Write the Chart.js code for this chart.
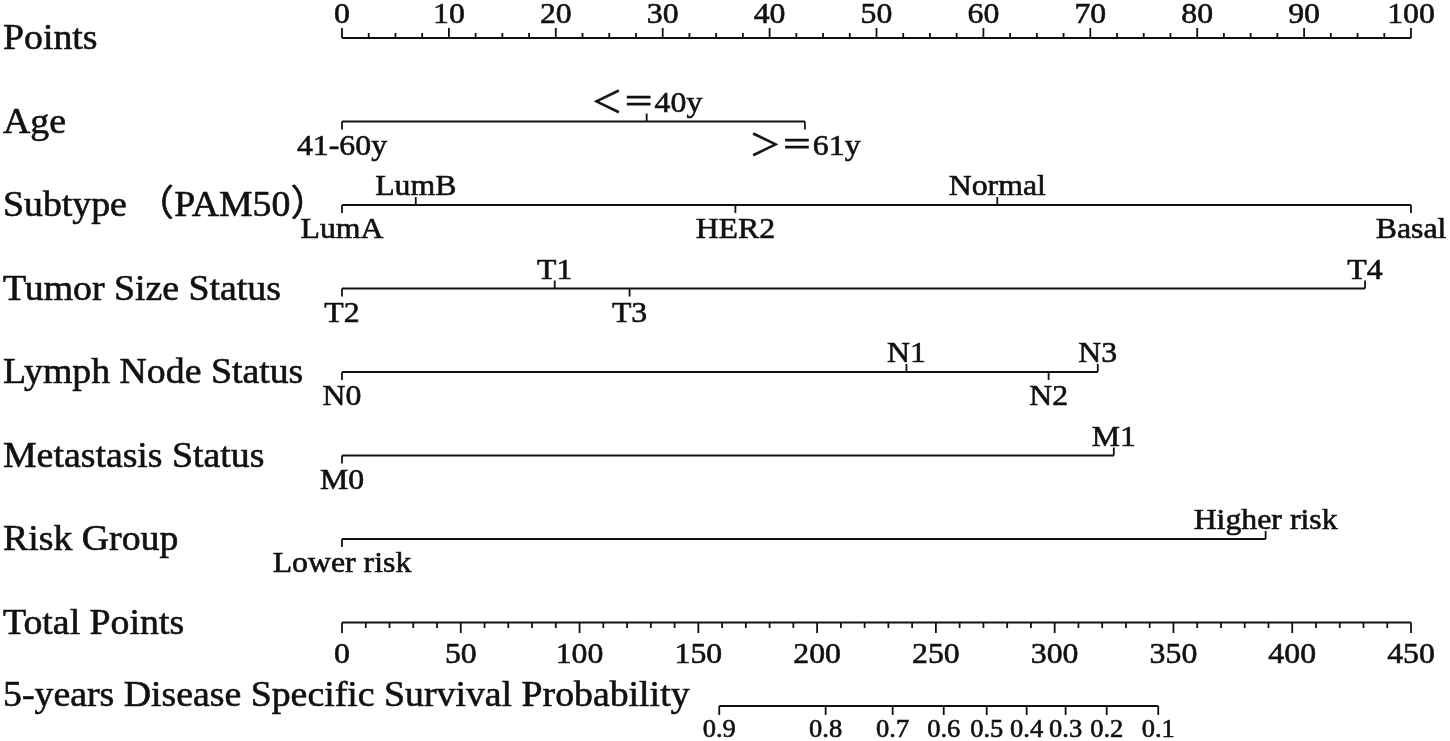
<!DOCTYPE html>
<html>
<head>
<meta charset="utf-8">
<title>Nomogram</title>
<script src="https://cdn.jsdelivr.net/npm/chart.js@4.4.1/dist/chart.umd.min.js"></script>
<style>
  html, body { margin: 0; padding: 0; background: #fff; overflow: hidden; }
  canvas { display: block; }
</style>
</head>
<body>
<canvas id="nomogram" width="1450" height="741"></canvas>
<script>
// row titles, top to bottom
const rowLabels = ['Points', 'Age', 'Subtype （PAM50）', 'Tumor Size Status', 'Lymph Node Status',
  'Metastasis Status', 'Risk Group', 'Total Points', '5-years Disease Specific Survival Probability'];

// points axis (0-100)
const pointTicks = [0, 10, 20, 30, 40, 50, 60, 70, 80, 90, 100];
const pointMinorStep = 2.5;

// variables: level names and the points
const ageLevels = ['41-60y', '＜＝40y', '＞＝61y'];
const agePoints = [0, 28.5, 43.3];
const subtypeLevels = ['LumA', 'LumB', 'HER2', 'Normal', 'Basal'];
const subtypePoints = [0, 6.9, 36.8, 61.3, 100];
const tumorLevels = ['T2', 'T1', 'T3', 'T4'];
const tumorPoints = [0, 19.9, 26.9, 95.7];
const nodeLevels = ['N0', 'N1', 'N2', 'N3'];
const nodePoints = [0, 52.8, 66.1, 70.7];
const metLevels = ['M0', 'M1'];
const metPoints = [0, 72.2];
const riskLevels = ['Lower risk', 'Higher risk'];
const riskPoints = [0, 86.4];

// total points axis (0-450)
const totalTicks = [0, 50, 100, 150, 200, 250, 300, 350, 400, 450];
const totalMinorStep = 10;

// 5-year survival probability vs total points
const survProb = ['0.9', '0.8', '0.7', '0.6', '0.5', '0.4', '0.3', '0.2', '0.1'];
const survTotal = [158.8, 203.6, 231.8, 253.3, 271.4, 288.2, 304.6, 321.9, 343.6];

const ink = '#111';
const serif = '"Liberation Serif", "Times New Roman", "Noto Sans CJK SC", serif';

const variables = [
  { row: 1, levels: ageLevels, points: agePoints },
  { row: 2, levels: subtypeLevels, points: subtypePoints },
  { row: 3, levels: tumorLevels, points: tumorPoints },
  { row: 4, levels: nodeLevels, points: nodePoints },
  { row: 5, levels: metLevels, points: metPoints },
  { row: 6, levels: riskLevels, points: riskPoints },
];

const lineSet = (pts, row, axis) => ({
  type: 'line',
  xAxisID: axis,
  data: [{ x: Math.min(...pts), y: row }, { x: Math.max(...pts), y: row }],
  borderColor: ink,
  borderWidth: 1.8,
  pointRadius: 0,
  clip: false,
});

const datasets = [lineSet(pointTicks, 0, 'x')]
  .concat(variables.map(v => lineSet(v.points, v.row, 'x')))
  .concat([lineSet(totalTicks, 7, 'x2'), lineSet(survTotal, 8, 'x2')]);

// ticks and text of every row, placed with the chart's scales
const nomogramPlugin = {
  id: 'nomogram',
  afterDatasetsDraw(chart) {
    const { ctx, scales: { x, x2, y } } = chart;
    ctx.save();
    ctx.strokeStyle = ink;
    ctx.fillStyle = ink;
    ctx.lineWidth = 1.8;
    const tick = (px, py, len) => {
      ctx.beginPath();
      ctx.moveTo(px, py);
      ctx.lineTo(px, py + len);
      ctx.stroke();
    };
    // the reference type is a little wide and heavy
    const text = (s, px, py, sx) => {
      ctx.save();
      ctx.translate(px, py);
      ctx.scale(sx, 1);
      ctx.lineWidth = 0.6;
      ctx.fillText(s, 0, 0);
      ctx.strokeText(s, 0, 0);
      ctx.restore();
    };

    ctx.textAlign = 'left';
    ctx.textBaseline = 'alphabetic';
    ctx.font = '36px ' + serif;
    rowLabels.forEach((t, i) => {
      text(t, 3, y.getPixelForValue(i) + (i === 8 ? 0 : 11), 1.05);
    });

    ctx.textAlign = 'center';

    // Points
    const y0 = y.getPixelForValue(0);
    ctx.font = '30px ' + serif;
    for (let v = 0; v <= 100; v += pointMinorStep) {
      const major = pointTicks.includes(v);
      tick(x.getPixelForValue(v), y0, major ? -10 : -5);
    }
    pointTicks.forEach(v => text(String(v), x.getPixelForValue(v), y0 - 15, 1.06));

    // categorical rows, labels alternate below / above
    variables.forEach(v => {
      const py = y.getPixelForValue(v.row);
      const order = v.points.map((p, i) => i).sort((a, b) => v.points[a] - v.points[b]);
      order.forEach((idx, k) => {
        const px = x.getPixelForValue(v.points[idx]);
        const below = k % 2 === 0;
        tick(px, py, below ? 8 : -8);
        text(v.levels[idx], px, below ? py + 33 : py - 10, 1.06);
      });
    });

    // Total Points
    const y7 = y.getPixelForValue(7);
    for (let v = 0; v <= 450; v += totalMinorStep) {
      const major = totalTicks.includes(v);
      tick(x2.getPixelForValue(v), y7, major ? 10.5 : 5.5);
    }
    totalTicks.forEach(v => text(String(v), x2.getPixelForValue(v), y7 + 40, 1.06));

    // survival probability
    const y8 = y.getPixelForValue(8);
    ctx.font = '25px ' + serif;
    survTotal.forEach((t, i) => {
      const px = x2.getPixelForValue(t);
      tick(px, y8, 9);
      text(survProb[i], px, y8 + 31, 1.06);
    });
    ctx.restore();
  }
};

new Chart(document.getElementById('nomogram'), {
  type: 'line',
  data: { datasets },
  options: {
    responsive: false,
    animation: false,
    layout: { padding: { left: 342, right: 39, top: 38, bottom: 35 } },
    scales: {
      x: { type: 'linear', min: 0, max: 100, display: false },
      x2: { type: 'linear', min: 0, max: 450, display: false },
      y: { type: 'linear', min: 0, max: 8, reverse: true, display: false },
    },
    plugins: { legend: { display: false }, tooltip: { enabled: false } },
  },
  plugins: [nomogramPlugin],
});
</script>
</body>
</html>
